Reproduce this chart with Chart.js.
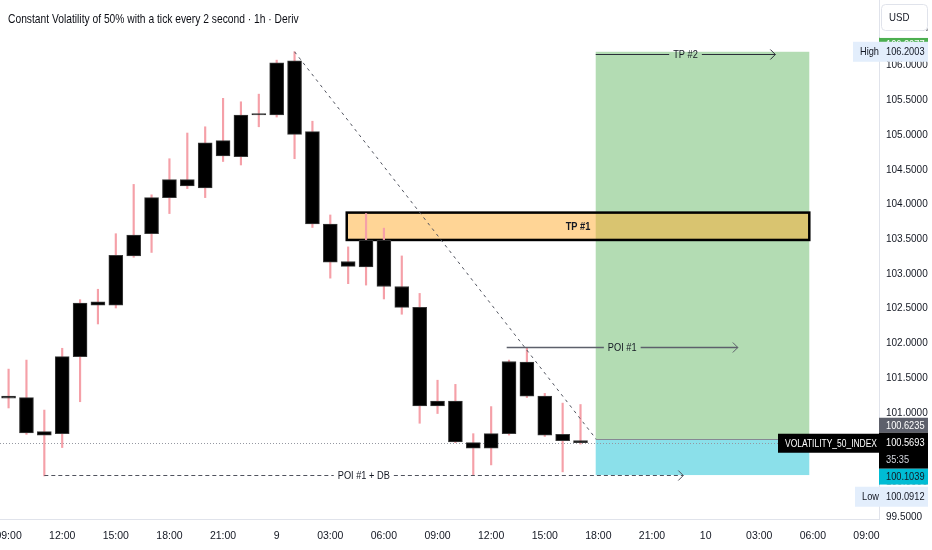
<!DOCTYPE html>
<html>
<head>
<meta charset="utf-8">
<script src="https://cdn.jsdelivr.net/npm/chart.js@4.4.1/dist/chart.umd.min.js"></script>
<style>
  html, body { margin: 0; padding: 0; background: #fff; }
  canvas { display: block; }
</style>
</head>
<body>
<canvas id="priceChart" width="932" height="550"></canvas>
<script>
// hourly candles, hour 0 = 09:00 on day 8
const hours  = [0, 1, 2, 3, 4, 5, 6, 7, 8, 9, 10, 11, 12, 13, 14, 15, 16, 17, 18, 19, 20, 21, 22, 23, 24, 25, 26, 27, 28, 29, 30, 31, 32];
const opens  = [101.24, 101.22, 100.68, 100.70, 101.81, 102.55, 102.55, 103.26, 103.58, 104.10, 104.36, 104.24, 104.70, 104.69, 105.29, 105.29, 106.07, 105.05, 103.72, 103.18, 103.10, 103.49, 102.82, 102.52, 101.10, 101.17, 100.57, 100.49, 100.70, 101.73, 101.24, 100.69, 100.60];
const highs  = [101.63, 101.76, 101.04, 101.93, 102.63, 102.78, 103.58, 104.29, 104.14, 104.66, 105.03, 105.12, 105.53, 105.48, 105.59, 106.08, 106.2003, 105.20, 103.85, 103.39, 103.87, 103.66, 103.26, 102.72, 101.47, 101.41, 100.70, 101.09, 101.76, 101.94, 101.28, 101.14, 101.12];
const lows   = [101.07, 100.69, 100.0912, 100.50, 101.16, 102.28, 102.51, 103.24, 103.31, 103.87, 104.23, 104.10, 104.62, 104.57, 105.12, 105.26, 104.66, 103.67, 102.94, 102.86, 102.84, 102.64, 102.42, 100.85, 100.99, 100.57, 100.10, 100.25, 100.68, 101.22, 100.66, 100.15, 100.55];
const closes = [101.21, 100.71, 100.73, 101.81, 102.58, 102.60, 103.27, 103.56, 104.10, 104.36, 104.27, 104.89, 104.92, 105.29, 105.31, 106.04, 105.01, 103.72, 103.17, 103.11, 103.49, 102.82, 102.52, 101.10, 101.17, 100.58, 100.49, 100.70, 101.74, 101.24, 100.68, 100.60, 100.5693];

const xTickHours  = [0, 3, 6, 9, 12, 15, 18, 21, 24, 27, 30, 33, 36, 39, 42, 45, 48];
const xTickLabels = ["09:00", "12:00", "15:00", "18:00", "21:00", "9", "03:00", "06:00", "09:00", "12:00", "15:00", "18:00", "21:00", "10", "03:00", "06:00", "09:00"];

// drawing levels (prices) and spans (hours)
const lastPrice = 100.5693;
const entryPrice = 100.6235;
const targetPrice = 106.2003;
const stopPrice = 100.1039;
const highPrice = 106.2003;
const lowPrice = 100.0912;
const zoneSpan = [32.85, 44.8];
const tp1Box = { from: 18.92, to: 44.8, low: 103.49, high: 103.884, label: "TP #1" };
const tp2Line = { from: 32.85, to: 42.9, price: 106.168, label: "TP #2" };
const poiLine = { from: 27.87, to: 40.8, price: 101.944, label: "POI #1" };
const poiDbLine = { from: 2, to: 37.75, price: 100.11, label: "POI #1 + DB" };
const trendLine = { from: 16, fromPrice: 106.2003, to: 32.87, toPrice: 100.6235 };

const FONT = '"Liberation Sans", Arial, sans-serif';
const SQUEEZE = 0.84;

// text squeezed horizontally to look like the narrow UI font
function narrowText(ctx, text, x, y, size, color, align, weight, squeeze, maxWidth) {
    const k = squeeze || SQUEEZE;
    ctx.save();
    ctx.font = (weight || "") + " " + size + "px " + FONT;
    ctx.fillStyle = color;
    ctx.textAlign = align || "left";
    ctx.textBaseline = "middle";
    ctx.translate(x, y);
    ctx.scale(k, 1);
    if (maxWidth) ctx.fillText(text, 0, 0, maxWidth / k);
    else ctx.fillText(text, 0, 0);
    ctx.restore();
}

function textWidth(ctx, text, size) {
    ctx.save();
    ctx.font = size + "px " + FONT;
    const w = ctx.measureText(text).width * SQUEEZE;
    ctx.restore();
    return w;
}

function priceTag(ctx, x, yTop, w, h, bg, fg, text) {
    ctx.fillStyle = bg;
    ctx.fillRect(x, yTop, w, h);
    narrowText(ctx, text, x + 7, yTop + h / 2 + 0.5, 11, fg, "left", "", SQUEEZE, w - 9);
}

function arrowLine(ctx, x1, x2, y, label, dashed, color, width) {
    const mid = (x1 + x2) / 2;
    const tw = textWidth(ctx, label, 11) / 2 + 4;
    ctx.save();
    ctx.strokeStyle = color;
    ctx.lineWidth = width;
    if (dashed) ctx.setLineDash([4, 3]);
    ctx.beginPath();
    ctx.moveTo(x1, y);
    ctx.lineTo(mid - tw, y);
    ctx.moveTo(mid + tw, y);
    ctx.lineTo(x2, y);
    ctx.stroke();
    ctx.setLineDash([]);
    ctx.lineWidth = 1;
    ctx.beginPath();
    ctx.moveTo(x2 - 5, y - 5);
    ctx.lineTo(x2, y);
    ctx.lineTo(x2 - 5, y + 5);
    ctx.stroke();
    ctx.restore();
    narrowText(ctx, label, mid, y + 0.5, 11, "#131722", "center");
}

const drawings = {
    id: "drawings",
    beforeDatasetsDraw(chart) {
        const { ctx, scales: { x, y } } = chart;
        const x1 = x.getPixelForValue(zoneSpan[0]);
        const x2 = x.getPixelForValue(zoneSpan[1]);
        ctx.save();
        // target zone
        ctx.fillStyle = "#b3dcb3";
        ctx.fillRect(x1, y.getPixelForValue(targetPrice), x2 - x1, y.getPixelForValue(entryPrice) - y.getPixelForValue(targetPrice));
        // stop zone
        ctx.fillStyle = "#8be0ea";
        ctx.fillRect(x1, y.getPixelForValue(entryPrice), x2 - x1, y.getPixelForValue(stopPrice) - y.getPixelForValue(entryPrice));
        // entry line
        ctx.strokeStyle = "#868993";
        ctx.lineWidth = 1;
        const ey = Math.round(y.getPixelForValue(entryPrice)) + 0.5;
        ctx.beginPath();
        ctx.moveTo(x1, ey);
        ctx.lineTo(x2, ey);
        ctx.stroke();
        // last price dotted line
        ctx.strokeStyle = "#9598a1";
        ctx.setLineDash([1, 2]);
        const ly = Math.round(y.getPixelForValue(lastPrice)) + 0.5;
        ctx.beginPath();
        ctx.moveTo(chart.chartArea.left, ly);
        ctx.lineTo(chart.chartArea.right, ly);
        ctx.stroke();
        ctx.setLineDash([]);
        // TP #1 box
        const bx1 = x.getPixelForValue(tp1Box.from);
        const bx2 = x.getPixelForValue(tp1Box.to);
        const by1 = y.getPixelForValue(tp1Box.high);
        const by2 = y.getPixelForValue(tp1Box.low);
        ctx.fillStyle = "rgba(255, 172, 45, 0.5)";
        ctx.fillRect(bx1, by1, bx2 - bx1, by2 - by1);
        ctx.strokeStyle = "#000";
        ctx.lineWidth = 2.5;
        ctx.strokeRect(bx1, by1, bx2 - bx1, by2 - by1);
        ctx.restore();
        narrowText(ctx, tp1Box.label, (bx1 + bx2) / 2, (by1 + by2) / 2 + 0.5, 11, "#131722", "center", "bold");
    },
    afterDatasetsDraw(chart) {
        const { ctx, scales: { x, y } } = chart;
        ctx.save();
        // dashed trend line
        ctx.strokeStyle = "#50535e";
        ctx.lineWidth = 1;
        ctx.setLineDash([3, 4]);
        ctx.beginPath();
        ctx.moveTo(x.getPixelForValue(trendLine.from), y.getPixelForValue(trendLine.fromPrice));
        ctx.lineTo(x.getPixelForValue(trendLine.to), y.getPixelForValue(trendLine.toPrice));
        ctx.stroke();
        ctx.restore();

        arrowLine(ctx, x.getPixelForValue(tp2Line.from), x.getPixelForValue(tp2Line.to),
            Math.round(y.getPixelForValue(tp2Line.price)) + 0.5, tp2Line.label, false, "#2a2e39", 1);
        arrowLine(ctx, x.getPixelForValue(poiLine.from), x.getPixelForValue(poiLine.to),
            Math.round(y.getPixelForValue(poiLine.price)) + 0.5, poiLine.label, false, "#5d606b", 1.5);
        arrowLine(ctx, x.getPixelForValue(poiDbLine.from), x.getPixelForValue(poiDbLine.to),
            Math.round(y.getPixelForValue(poiDbLine.price)) + 0.5, poiDbLine.label, true, "#50535e", 1);
    },
    afterDraw(chart) {
        const { ctx, scales: { y } } = chart;
        const ax = chart.chartArea.right;
        const ab = chart.chartArea.bottom;

        // cut the lowest price label at the time axis line
        ctx.fillStyle = "#fff";
        ctx.fillRect(ax + 1, ab + 1, chart.width - ax, chart.height - ab);

        // title
        narrowText(ctx, "Constant Volatility of 50% with a tick every 2 second \u00b7 1h \u00b7 Deriv", 8, 19, 13, "#0c0e15", "left", "", 0.79);

        // USD button
        ctx.save();
        ctx.fillStyle = "#fff";
        ctx.strokeStyle = "#e0e3eb";
        ctx.lineWidth = 1;
        ctx.beginPath();
        ctx.roundRect(ax + 2.5, 4.5, 46, 26, 4);
        ctx.fill();
        ctx.stroke();
        ctx.restore();
        narrowText(ctx, "USD", ax + 10, 18, 11.5, "#131722");

        // target tag (mostly hidden under High)
        const hY = y.getPixelForValue(highPrice);
        ctx.fillStyle = "#fff";
        ctx.fillRect(ax + 1, 31, 51, hY - 41);
        priceTag(ctx, ax, hY - 14, 49, 14, "#4caf50", "#fff", "106.2077");
        ctx.fillStyle = "#fff";
        ctx.fillRect(ax + 1, 31, 51, hY - 45);
        // high
        priceTag(ctx, ax - 26, hY - 10, 75, 20, "#e3eefc", "#131722", "High");
        narrowText(ctx, highPrice.toFixed(4), ax + 7, hY + 0.5, 11, "#131722");

        // entry, last price, stop tags
        const lY = y.getPixelForValue(lastPrice);
        priceTag(ctx, ax, lY - 25, 49, 15, "#5d606b", "#fff", entryPrice.toFixed(4));
        ctx.fillStyle = "#000";
        ctx.fillRect(ax, lY - 10, 49, 36);
        narrowText(ctx, lastPrice.toFixed(4), ax + 7, lY + 0.5, 11, "#fff");
        narrowText(ctx, "35:35", ax + 7, lY + 17, 11, "#d1d4dc");
        priceTag(ctx, ax - 101, lY - 9, 101, 19, "#000", "#fff", "VOLATILITY_50_INDEX");
        priceTag(ctx, ax, lY + 26, 49, 16, "#00bcd4", "#131722", stopPrice.toFixed(4));
        // gap between stop tag and low tag
        ctx.fillStyle = "#fff";
        ctx.fillRect(ax + 1, lY + 42, 51, 2);
        // low
        priceTag(ctx, ax - 24, lY + 44, 73, 20, "#e3eefc", "#131722", "Low");
        narrowText(ctx, lowPrice.toFixed(4), ax + 7, lY + 54.5, 11, "#131722");
    }
};

const bodies = hours.map((h, i) => ({ x: h, y: [opens[i], closes[i]] }));
const wicks = hours.map((h, i) => ({ x: h, y: [lows[i], highs[i]] }));

new Chart(document.getElementById("priceChart"), {
    type: "bar",
    data: {
        datasets: [
            {
                label: "body",
                data: bodies,
                backgroundColor: "#000",
                borderColor: "#3a3a3a",
                borderWidth: 1,
                borderSkipped: false,
                barThickness: 14,
                grouped: false,
            },
            {
                label: "wick",
                data: wicks,
                backgroundColor: "#f5a0a8",
                borderWidth: 0,
                barThickness: 1.5,
                grouped: false,
            },
        ],
    },
    options: {
        responsive: false,
        animation: false,
        layout: { padding: 0 },
        plugins: {
            legend: { display: false },
            tooltip: { enabled: false },
        },
        scales: {
            x: {
                type: "linear",
                min: -0.48,
                max: 48.7,
                offset: false,
                grid: { display: false, drawTicks: false },
                border: { display: true, color: "#e0e3eb" },
                ticks: {
                    stepSize: 3,
                    includeBounds: false,
                    autoSkip: false,
                    maxRotation: 0,
                    padding: 11,
                    color: "#131722",
                    font: { family: FONT, size: 10.5 },
                    callback: (v) => {
                        const i = xTickHours.indexOf(v);
                        return i >= 0 ? xTickLabels[i] : "";
                    },
                },
                afterFit: (scale) => {
                    scale.height = 31;
                    scale.paddingLeft = 0;
                    scale.paddingRight = 0;
                },
            },
            y: {
                position: "right",
                min: 99.471,
                max: 106.946,
                grid: { display: false, drawTicks: false },
                border: { display: true, color: "#e0e3eb" },
                ticks: {
                    stepSize: 0.5,
                    includeBounds: false,
                    padding: 7,
                    color: "#131722",
                    font: { family: FONT, size: 10 },
                    callback: (v) => v.toFixed(4),
                },
                afterFit: (scale) => {
                    scale.width = 53;
                    scale.paddingTop = 0;
                    scale.paddingBottom = 0;
                },
            },
        },
    },
    plugins: [drawings],
});
</script>
</body>
</html>
